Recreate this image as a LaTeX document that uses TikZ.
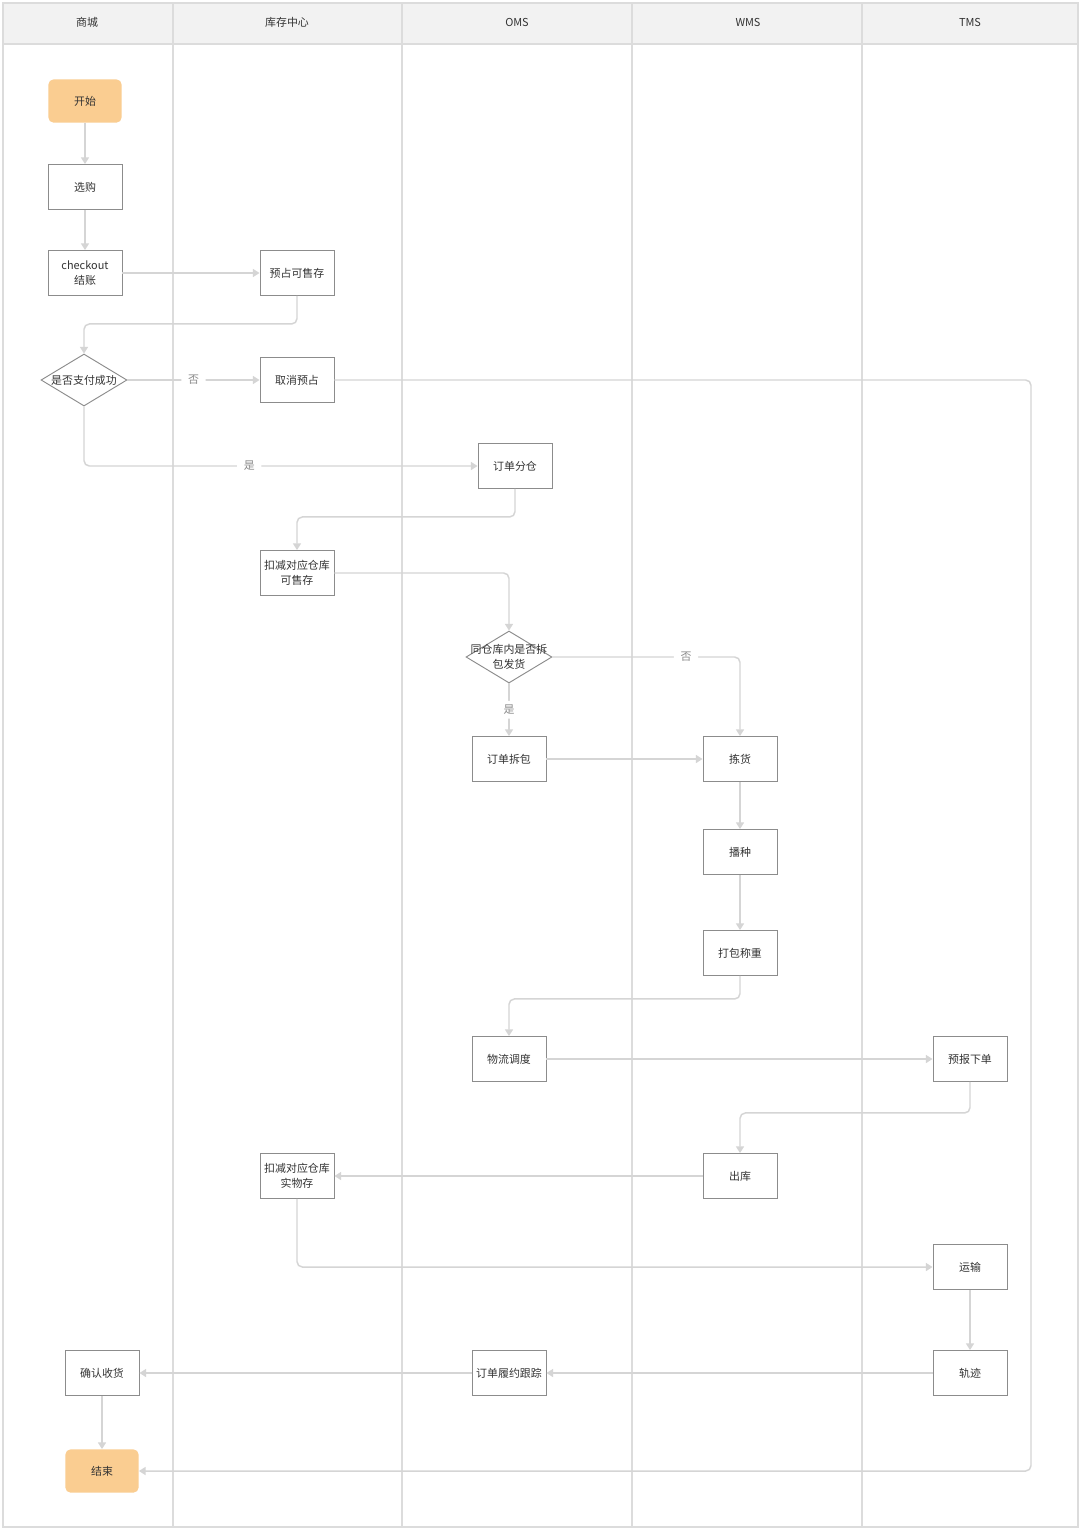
\documentclass[tikz,border=0pt]{standalone}
\usepackage{fontspec}
\setmainfont{Noto Sans CJK SC}
\usetikzlibrary{arrows.meta,shapes.geometric,calc}
\definecolor{orangefill}{HTML}{FACD91}
\definecolor{boxline}{HTML}{8C8C8C}
\definecolor{flowline}{HTML}{D5D5D5}
\definecolor{laneline}{HTML}{DCDCDC}
\definecolor{headfill}{HTML}{F2F2F2}
\definecolor{txt}{HTML}{333333}
\definecolor{lbltxt}{HTML}{8A8A8A}
\tikzset{
  every node/.style={font=\fontsize{8.2pt}{11pt}\selectfont, text=txt},
  stepbox/.style={draw=boxline, line width=0.7pt, fill=white, minimum width=55.5pt, minimum height=33.75pt, inner sep=0pt, align=center},
  termbox/.style={fill=orangefill, rounded corners=4pt, minimum width=55pt, minimum height=32.5pt, inner sep=0pt},
  decide/.style={diamond, draw=boxline, line width=0.7pt, fill=white, minimum width=64.5pt, minimum height=39pt, inner sep=0pt},
  flow/.style={draw=flowline, line width=1.1pt, rounded corners=4pt, -{Triangle[width=6pt,length=5pt]}},
  lbl/.style={fill=white, text=lbltxt, inner sep=5pt},
  lane/.style={draw=laneline, line width=1.1pt},
  headtxt/.style={font=\fontsize{8.2pt}{10pt}\selectfont, text=txt}
}
\begin{document}
\begin{tikzpicture}[x=0.75pt, y=-0.75pt]
\useasboundingbox (0,0) rectangle (1080,1529);
% header and lanes
\fill[white] (0,0) rectangle (1080,1529);
\fill[headfill] (3,3) rectangle (1078,44);
\draw[lane] (3,44) -- (1078,44);
\draw[draw=laneline, line width=0.9pt] (3,3) rectangle (1078,1527);
\foreach \lx in {173,402,632,862} {\draw[lane] (\lx,3) -- (\lx,1527);}
\node[headtxt] (h1) at (87,22) {商城};
\node[headtxt] (h2) at (287,22) {库存中心};
\node[headtxt] (h3) at (517,22) {OMS};
\node[headtxt] (h4) at (748,22) {WMS};
\node[headtxt] (h5) at (970,22) {TMS};

% nodes
\node[termbox] (start) at (85,101) {开始};
\node[stepbox] (buy) at (85,187) {选购};
\node[stepbox] (checkout) at (85,273) {checkout\\结账};
\node[stepbox] (reserve) at (297,273) {预占可售存};
\node[decide, label={[align=center]center:是否支付成功}] (paid) at (84,380) {};
\node[stepbox] (cancel) at (297,380) {取消预占};
\node[stepbox] (split) at (515,466) {订单分仓};
\node[stepbox] (deduct1) at (297,573) {扣减对应仓库\\可售存};
\node[decide, label={[align=center, yshift=0pt]center:{同仓库内是否拆\\包发货}}] (pack) at (509,657) {};
\node[stepbox] (unpack) at (509,759) {订单拆包};
\node[stepbox] (pick) at (740,759) {拣货};
\node[stepbox] (sow) at (740,852) {播种};
\node[stepbox] (weigh) at (740,953) {打包称重};
\node[stepbox] (dispatch) at (509,1059) {物流调度};
\node[stepbox] (forecast) at (970,1059) {预报下单};
\node[stepbox] (out) at (740,1176) {出库};
\node[stepbox] (deduct2) at (297,1176) {扣减对应仓库\\实物存};
\node[stepbox] (ship) at (970,1267) {运输};
\node[stepbox] (track) at (970,1373) {轨迹};
\node[stepbox] (follow) at (509,1373) {订单履约跟踪};
\node[stepbox] (confirm) at (102,1373) {确认收货};
\node[termbox] (end) at (102,1471) {结束};
\coordinate (rt) at (1031,1471);

% connectors
\draw[flow] (start) -- (buy);
\draw[flow] (buy) -- (checkout);
\draw[flow] (checkout) -- (reserve);
\draw[flow] (reserve.south) -- ++(0,28) -| (paid.north);
\draw[flow] (paid.east) -- node[lbl]{否} (cancel.west);
\draw[flow] (cancel.east) -| (rt) -- (end.east);
\draw[flow] (paid.south) |- node[lbl, pos=0.71]{是} (split.west);
\draw[flow] (split.south) -- ++(0,28) -| (deduct1.north);
\draw[flow] (deduct1.east) -| (pack.north);
\draw[flow] (pack.east) -| node[lbl, pos=0.356]{否} (pick.north);
\draw[flow] (pack.south) -- node[lbl, inner sep=3pt]{是} (unpack.north);
\draw[flow] (unpack) -- (pick);
\draw[flow] (pick) -- (sow);
\draw[flow] (sow) -- (weigh);
\draw[flow] (weigh.south) -- ++(0,23) -| (dispatch.north);
\draw[flow] (dispatch) -- (forecast);
\draw[flow] (forecast.south) -- ++(0,31) -| (out.north);
\draw[flow] (out) -- (deduct2);
\draw[flow] (deduct2.south) |- (ship.west);
\draw[flow] (ship) -- (track);
\draw[flow] (track) -- (follow);
\draw[flow] (follow) -- (confirm);
\draw[flow] (confirm) -- (end);
\end{tikzpicture}
\end{document}
